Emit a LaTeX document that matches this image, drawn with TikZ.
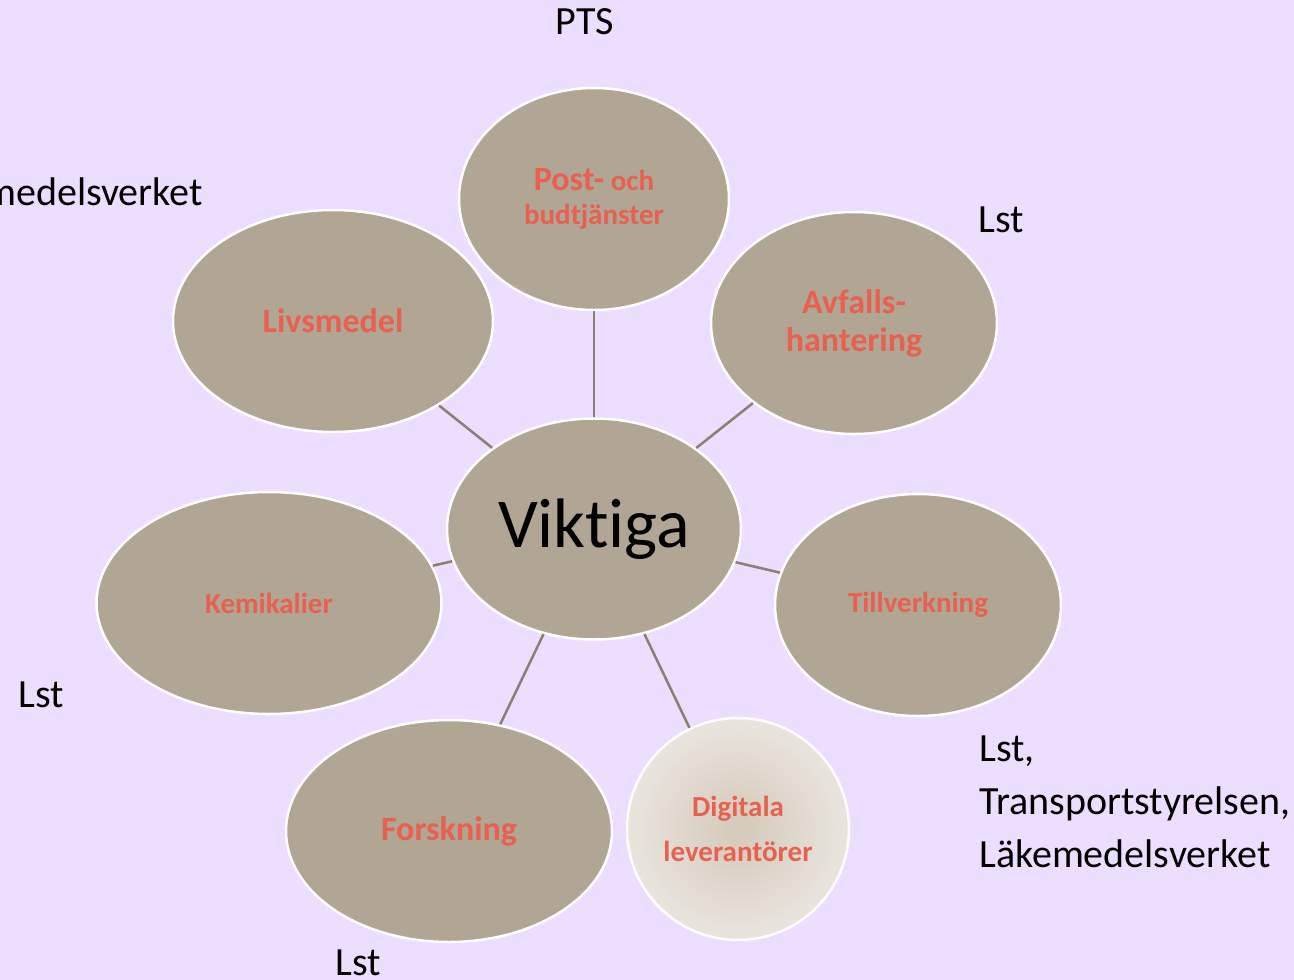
\documentclass[tikz,border=0pt]{standalone}
\usepackage{fontspec}
\setmainfont{Carlito}[Ligatures={NoCommon}]
\usepackage{tikz}
\usetikzlibrary{shapes.geometric}
\usepackage{xcolor}
\definecolor{LiteLilac}{RGB}{236,222,254}
\definecolor{Taupe}{RGB}{176,166,147}
\definecolor{LiteTaupe}{RGB}{233,229,222}
\definecolor{MidTaupe}{RGB}{212,201,186}
\definecolor{Coral}{RGB}{232,96,80}
\definecolor{LinkGrey}{RGB}{139,128,115}
\tikzset{%
  smooth_ellipse/.style={%
    ellipse,%
    inner sep=0pt,%
    draw=white,%
    line width=2.5pt,%
    fill=Taupe,%
    text=Coral,%
    align=center,%
    font={\fontsize{34}{38}\selectfont\bfseries},%
  },
  smooth_center/.style={%
    smooth_ellipse,%
    text=black,%
    font={\fontsize{70}{76}\selectfont},%
  },
  smooth_shaded/.style={%
    smooth_ellipse,%
    fill=none,%
    shading=radial,%
    inner color=MidTaupe,%
    outer color=LiteTaupe,%
  },
  smooth_path/.style={%
    color=LinkGrey,%
    line width=2.5pt,%
  },
  smooth_annotate/.style={%
    color=black,%
    inner sep=0pt,%
    align=left,%
    font={\fontsize{40}{53}\selectfont},%
  },
  small_label/.style={%
    font={\fontsize{29}{34}\selectfont\bfseries},%
  },
}

\begin{document}
\begin{tikzpicture}[x=1pt, y=-1pt]

    \useasboundingbox (0,0) rectangle (1294,980);
    \clip (0,0) rectangle (1294,980);
    \fill [LiteLilac] (0,0) rectangle (1294,980);

    \node [smooth_center, minimum width=294, minimum height=221] at (594,529) (Viktiga) {Viktiga};
    \node [smooth_ellipse, minimum width=270, minimum height=222, small_label] at (594,199) (Post)
      {{\fontsize{34}{34}\selectfont Post-} och\\budtjänster};
    \node [smooth_ellipse, minimum width=320, minimum height=222] at (333,321) (Livsmedel) {Livsmedel};
    \node [smooth_ellipse, minimum width=286, minimum height=222] at (854,323) (Avfall) {Avfalls-\\hantering};
    \node [smooth_ellipse, minimum width=345, minimum height=222, small_label] at (269,603) (Kemikalier) {Kemikalier};
    \node [smooth_ellipse, minimum width=286, minimum height=222, small_label] at (918,605) (Tillverkning) {Tillverkning};
    \node [smooth_ellipse, minimum width=326, minimum height=222] at (449,831) (Forskning) {Forskning};
    \node [smooth_shaded, minimum width=222, minimum height=222, small_label] at (738,829) (Digitala)
      {Digitala\\[11pt]leverantörer};

    \draw [smooth_path] (Viktiga) -- (Post);
    \draw [smooth_path] (Viktiga) -- (Livsmedel);
    \draw [smooth_path] (Viktiga) -- (Avfall);
    \draw [smooth_path] (Viktiga) -- (Kemikalier);
    \draw [smooth_path] (Viktiga) -- (Tillverkning);
    \draw [smooth_path] (Viktiga) -- (Forskning);
    \draw [smooth_path] (Viktiga) -- (Digitala);

    \node [smooth_annotate] at (585,22) (PTS_label) {PTS};
    \node [smooth_annotate, anchor=east] at (203,192) (Livs_label) {Livsmedelsverket};
    \node [smooth_annotate] at (1001,220) (Avfall_label) {Lst};
    \node [smooth_annotate] at (41,695) (Kemi_label) {Lst};
    \node [smooth_annotate] at (358,963) (Forsk_label) {Lst};
    \node [smooth_annotate, anchor=north west] at (979,736) (Till_label)
      {Lst,\\Transportstyrelsen,\\Läkemedelsverket};
  \end{tikzpicture}
\end{document}
